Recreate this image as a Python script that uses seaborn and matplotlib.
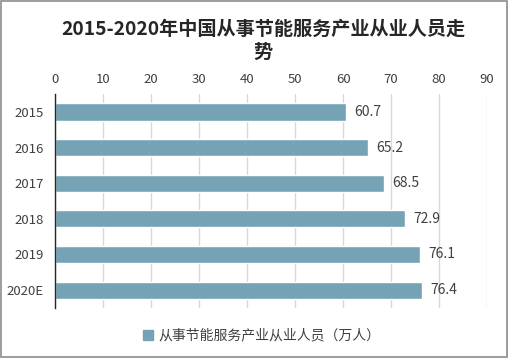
import matplotlib
matplotlib.use("Agg")
import matplotlib.pyplot as plt
from matplotlib.patches import Rectangle, Patch
import seaborn as sns
import pandas as pd

years = ["2015", "2016", "2017", "2018", "2019", "2020E"]
workers = [60.7, 65.2, 68.5, 72.9, 76.1, 76.4]
x_ticks = [0, 10, 20, 30, 40, 50, 60, 70, 80, 90]
title = "2015-2020年中国从事节能服务产业从业人员走\n势"
legend_label = "从事节能服务产业从业人员（万人）"
bar_color = "#75A3B5"

sns.set_style("white")
plt.rcParams["font.family"] = ["Noto Sans CJK SC", "DejaVu Sans"]

df = pd.DataFrame({"year": years, "value": workers})

fig = plt.figure(figsize=(5.08, 3.58), dpi=100)
ax = fig.add_axes([0.108, 0.140, 0.851, 0.597])

sns.barplot(data=df, x="value", y="year", orient="h", color=bar_color,
            width=0.48, saturation=1, ax=ax)

ax.set_xlim(0, 90)
ax.set_ylim(5.5, -0.5)
ax.set_xticks(x_ticks)
ax.xaxis.tick_top()
ax.tick_params(axis="x", length=0, pad=6, labelsize=9.5, colors="#404040")
ax.tick_params(axis="y", length=0, pad=8, labelsize=9.5, colors="#404040")
ax.set_xlabel("")
ax.set_ylabel("")
ax.grid(axis="x", color="#D9D9D9", linewidth=1)
ax.set_axisbelow(True)
for side in ["top", "right", "bottom"]:
    ax.spines[side].set_visible(False)
ax.spines["left"].set_color("#262626")
ax.spines["left"].set_linewidth(1)

for i, v in enumerate(workers):
    ax.text(v + 1.7, i, f"{v}", va="center", ha="left", fontsize=10, color="#404040")

fig.suptitle(title, x=0.518, y=0.944, fontsize=13.8, fontweight="bold",
             color="#262626", linespacing=1.25)

fig.legend(handles=[Patch(color=bar_color)], labels=[legend_label],
           loc="center", bbox_to_anchor=(0.515, 0.062), frameon=False,
           fontsize=10, labelcolor="#404040", handlelength=0.7,
           handleheight=0.7, handletextpad=0.4)

fig.patches.append(Rectangle((0.001, 0.004), 0.997, 0.994, transform=fig.transFigure,
                             fill=False, edgecolor="#8C8C8C", linewidth=1.2))

fig.savefig("out.png", dpi=100)
